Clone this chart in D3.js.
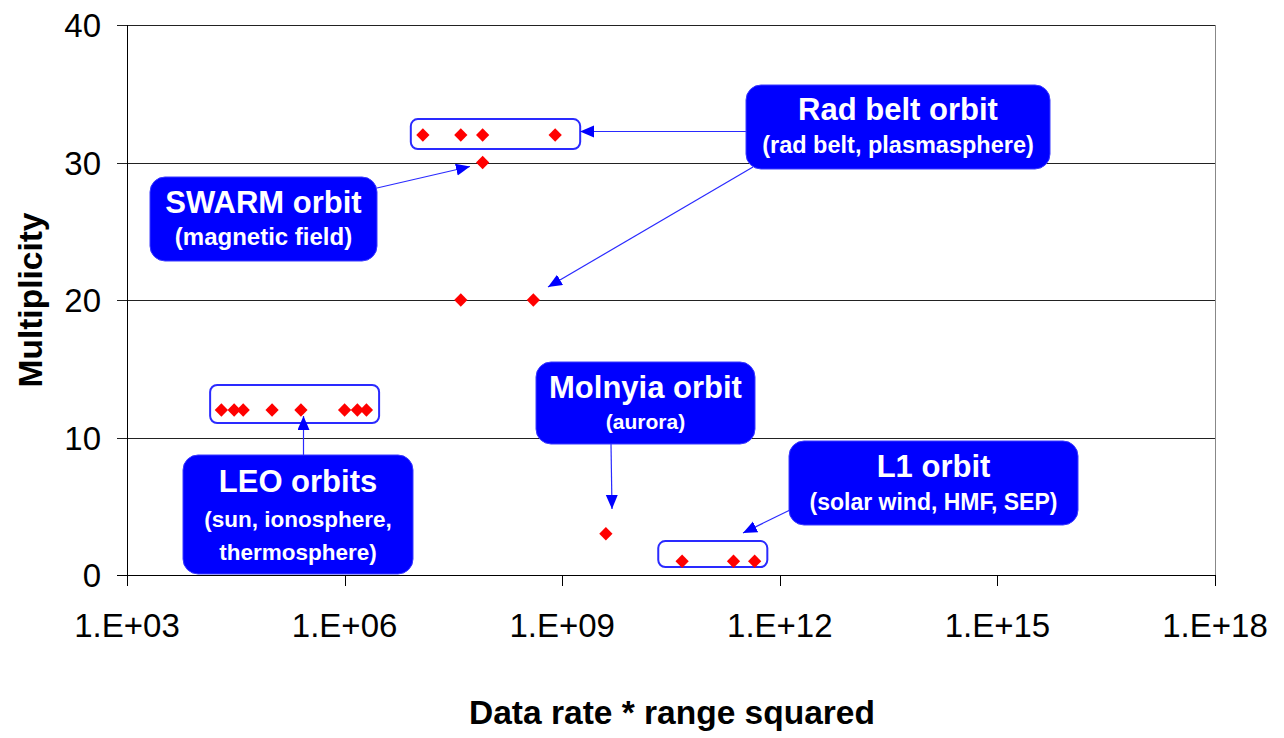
<!DOCTYPE html>
<html>
<head>
<meta charset="utf-8">
<script src="https://cdn.jsdelivr.net/npm/d3@7"></script>
<style>
  html, body { margin: 0; padding: 0; background: #fff; }
  svg { display: block; font-family: "Liberation Sans", Arial, sans-serif; }
</style>
</head>
<body>
<svg id="chart" width="1284" height="738"></svg>
<script>
// ---- data ----
const xTickValues = [1e3, 1e6, 1e9, 1e12, 1e15, 1e18];
const xTickLabels = ["1.E+03", "1.E+06", "1.E+09", "1.E+12", "1.E+15", "1.E+18"];
const yTickValues = [0, 10, 20, 30, 40];
const pointX = [2e4, 3e4, 4e4, 1e5, 2.5e5, 1e6, 1.5e6, 2e6,
                1.2e7, 4e7, 8e7, 8e8,
                8e7,
                4e7, 4e8,
                4e9,
                4.5e10, 2.3e11, 4.5e11];
const pointY = [12, 12, 12, 12, 12, 12, 12, 12,
                32, 32, 32, 32,
                30,
                20, 20,
                3,
                1, 1, 1];
const xTitle = "Data rate * range squared";
const yTitle = "Multiplicity";

// group boxes (data coordinates)
const groupBoxes = [
  { x0: 1.40e4, x1: 2.99e6, y0: 11.05, y1: 13.82 },
  { x0: 8.18e6, x1: 1.77e9, y0: 30.98, y1: 33.16 },
  { x0: 2.11e10, x1: 6.73e11, y0: 0.58, y1: 2.47 }
];

// callouts (layout in pixels)
const callouts = [
  { lines: ["SWARM orbit", "(magnetic field)"], sizes: [31, 24], x: 150, y: 177, w: 227, h: 84, base: [213, 245] },
  { lines: ["Rad belt orbit", "(rad belt, plasmasphere)"], sizes: [31, 23.5], x: 746, y: 85, w: 304, h: 84, base: [120, 153] },
  { lines: ["Molnyia orbit", "(aurora)"], sizes: [31, 21], x: 536, y: 362, w: 219, h: 82, base: [398, 429] },
  { lines: ["L1 orbit", "(solar wind, HMF, SEP)"], sizes: [31, 23], x: 789, y: 441, w: 289, h: 84, base: [477, 510] },
  { lines: ["LEO orbits", "(sun, ionosphere,", "thermosphere)"], sizes: [31, 22.5, 22.5], x: 183, y: 455, w: 230, h: 119, base: [492, 527, 560] }
];
const arrows = [
  { x1: 377, y1: 188, x2: 470, y2: 166.5 },
  { x1: 746, y1: 131.5, x2: 580, y2: 131.5 },
  { x1: 753, y1: 167, x2: 548, y2: 287 },
  { x1: 611, y1: 444, x2: 612, y2: 509 },
  { x1: 790, y1: 510, x2: 743, y2: 533 },
  { x1: 303.5, y1: 455, x2: 303.5, y2: 416 }
];

// ---- chart ----
const svg = d3.select("#chart");
const x = d3.scaleLog().domain([1e3, 1e18]).range([127, 1215]);
const y = d3.scaleLinear().domain([0, 40]).range([575, 25]);

// gridlines + y ticks
svg.append("g").selectAll("line").data(yTickValues).join("line")
  .attr("x1", 117).attr("x2", 1215)
  .attr("y1", d => Math.round(y(d)) + 0.5).attr("y2", d => Math.round(y(d)) + 0.5)
  .attr("stroke", d => d === 0 ? "#000" : "#222").attr("stroke-width", 1);

// right border
svg.append("line").attr("x1", 1215.5).attr("x2", 1215.5).attr("y1", y(40)).attr("y2", y(0))
  .attr("stroke", "#888").attr("stroke-width", 1);

// y axis line
svg.append("line").attr("x1", 127.5).attr("x2", 127.5).attr("y1", y(40)).attr("y2", y(0) + 11)
  .attr("stroke", "#000");

// x ticks
svg.append("g").selectAll("line").data(xTickValues).join("line")
  .attr("x1", d => Math.round(x(d)) + 0.5).attr("x2", d => Math.round(x(d)) + 0.5)
  .attr("y1", y(0)).attr("y2", y(0) + 11).attr("stroke", "#000");

svg.append("g").selectAll("text").data(xTickValues).join("text")
  .attr("x", d => x(d)).attr("y", 637)
  .attr("text-anchor", "middle").attr("font-size", 33).attr("fill", "#000")
  .text((d, i) => xTickLabels[i]);

svg.append("g").selectAll("text").data(yTickValues).join("text")
  .attr("x", 101).attr("y", d => y(d) + 12)
  .attr("text-anchor", "end").attr("font-size", 33).attr("fill", "#000")
  .text(d => d);

// titles
svg.append("text").attr("x", 672).attr("y", 724).attr("text-anchor", "middle")
  .attr("font-size", 33.5).attr("font-weight", "bold").text(xTitle);
svg.append("text").attr("transform", "translate(42,300) rotate(-90)").attr("text-anchor", "middle")
  .attr("font-size", 33.5).attr("font-weight", "bold").text(yTitle);

// arrowhead marker
const defs = svg.append("defs");
defs.append("marker").attr("id", "arr").attr("markerUnits", "userSpaceOnUse")
  .attr("markerWidth", 16).attr("markerHeight", 14)
  .attr("refX", 14).attr("refY", 6).attr("orient", "auto")
  .append("path").attr("d", "M0,0 L14,6 L0,12 Z").attr("fill", "#0000ff");

// group boxes
svg.append("g").selectAll("rect").data(groupBoxes).join("rect")
  .attr("x", d => x(d.x0)).attr("y", d => y(d.y1))
  .attr("width", d => x(d.x1) - x(d.x0)).attr("height", d => y(d.y0) - y(d.y1))
  .attr("rx", 7).attr("fill", "none").attr("stroke", "#2a2aff").attr("stroke-width", 2);

// points (square rotated 45deg => diamond)
const diamond = d3.symbol().type(d3.symbolSquare).size(88);
svg.append("g").selectAll("path").data(pointX.map((v, i) => [v, pointY[i]])).join("path")
  .attr("transform", d => `translate(${x(d[0])},${y(d[1])}) rotate(45)`)
  .attr("d", diamond).attr("fill", "#ff0000");

// arrows
svg.append("g").selectAll("line").data(arrows).join("line")
  .attr("x1", d => d.x1).attr("y1", d => d.y1).attr("x2", d => d.x2).attr("y2", d => d.y2)
  .attr("stroke", "#2a2aff").attr("stroke-width", 1.2).attr("marker-end", "url(#arr)");

// callouts
const cg = svg.append("g").selectAll("g").data(callouts).join("g");
cg.append("rect").attr("x", d => d.x).attr("y", d => d.y).attr("width", d => d.w).attr("height", d => d.h)
  .attr("rx", 15).attr("fill", "#0000ff").attr("stroke", "#3a3aff").attr("stroke-width", 1);
cg.each(function(d) {
  const g = d3.select(this);
  d.lines.forEach((t, i) => {
    g.append("text").attr("x", d.x + d.w / 2).attr("y", d.base[i])
      .attr("text-anchor", "middle").attr("font-size", d.sizes[i]).attr("font-weight", "bold")
      .attr("fill", "#fff").text(t);
  });
});
</script>
</body>
</html>
